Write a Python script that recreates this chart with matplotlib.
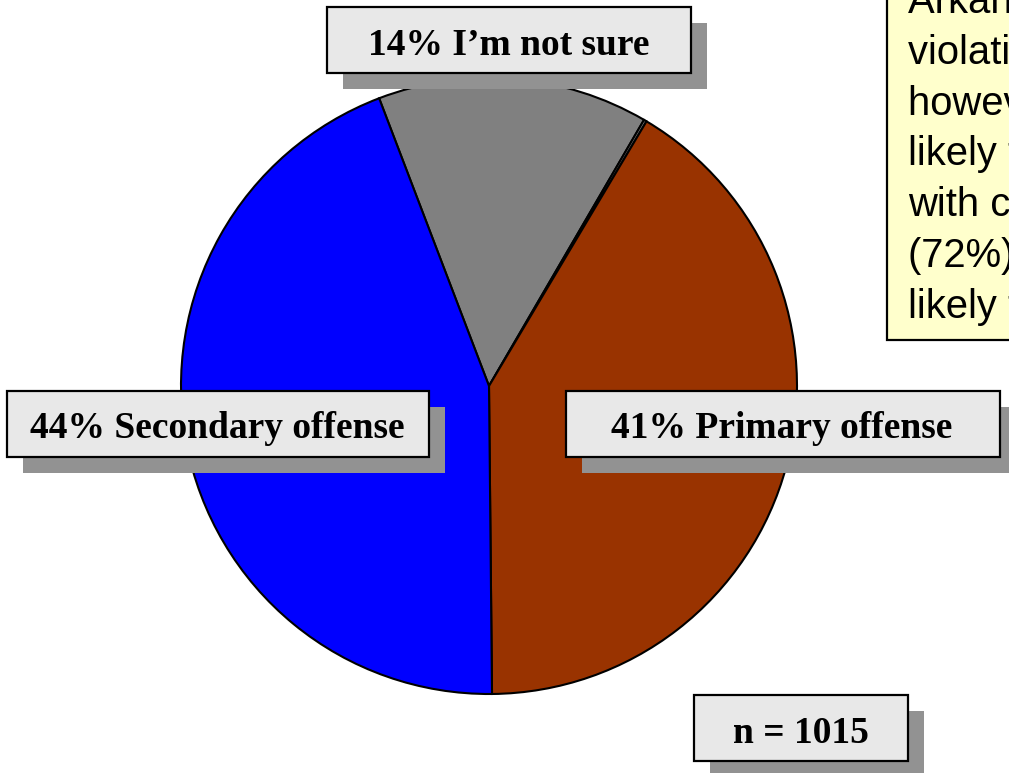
import matplotlib
matplotlib.use("Agg")
import matplotlib.pyplot as plt
from matplotlib.patches import Rectangle

# ---- data ----
slice_labels = ["I'm not sure", "Other", "Primary offense", "Secondary offense"]
slice_values = [14.2, 0.15, 41.3, 44.35]
slice_colors = ["#808080", "#808080", "#993300", "#0000FF"]

label_texts = ["14% I\u2019m not sure", "44% Secondary offense", "41% Primary offense", "n = 1015"]

note_lines = [
    "Arkansans are divided",
    "violating the seat belt",
    "however, parents are",
    "likely to support it",
    "with children in car",
    "(72%) are more",
    "likely to agree",
]

W, H = 1009, 773
fig = plt.figure(figsize=(W / 100, H / 100), dpi=100)
ax = fig.add_axes([0, 0, 1, 1])

def Y(y):
    return H - y

# pie
ax.pie(slice_values, colors=slice_colors, center=(489, Y(386)), radius=308,
       startangle=110.9, counterclock=False,
       wedgeprops=dict(edgecolor="black", linewidth=1.5), frame=False)

ax.set_xlim(0, W)
ax.set_ylim(0, H)
ax.set_aspect("equal")
ax.axis("off")

# label boxes: (left, top, right, bottom, text_x, baseline)
boxes = [
    (327, 7, 691, 73, 509, 55),
    (7, 391, 429, 457, 217, 438),
    (566, 391, 1000, 457, 782, 438),
    (694, 695, 908, 761, 801, 743),
]
off = 16
for (l, t, r, b, tx, bl), txt in zip(boxes, label_texts):
    ax.add_patch(Rectangle((l + off, Y(b + off)), r - l, b - t,
                           facecolor="#929292", edgecolor="none", zorder=3))
    ax.add_patch(Rectangle((l, Y(b)), r - l, b - t,
                           facecolor="#E8E8E8", edgecolor="black", linewidth=1.6, zorder=4))
    ax.text(tx, Y(bl), txt, ha="center", va="baseline", fontsize=27,
            fontweight="bold", family=["Liberation Serif", "DejaVu Serif"], zorder=5)

# yellow note box (clipped by figure edge, as in the reference)
ax.add_patch(Rectangle((887, Y(340)), 300, 400, facecolor="#FFFFCC",
                       edgecolor="black", linewidth=1.6, zorder=3, clip_on=False))
baselines = [13, 64, 115, 165, 216, 267, 318]
for line, bl in zip(note_lines, baselines):
    ax.text(908, Y(bl), line, ha="left", va="baseline", fontsize=28.8,
            family=["Liberation Sans Narrow", "Liberation Sans"], zorder=5,
            clip_on=False)

fig.savefig("out.png", dpi=100)
